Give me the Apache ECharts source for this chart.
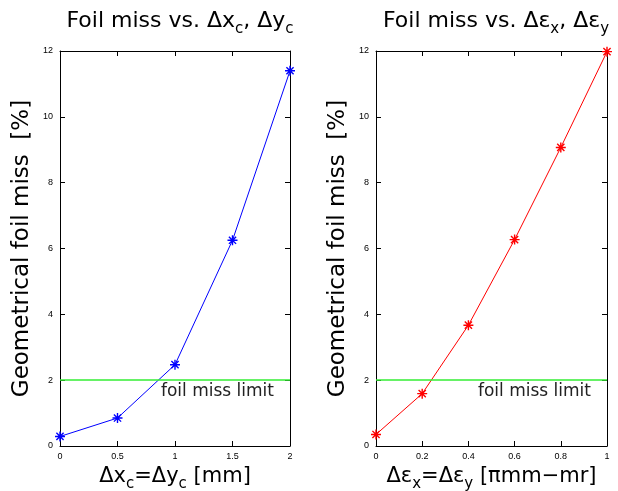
<!DOCTYPE html>
<html>
<head>
<meta charset="utf-8">
<script src="https://cdn.jsdelivr.net/npm/echarts@6/dist/echarts.min.js"></script>
<style>
  html, body { margin: 0; padding: 0; background: #fff; }
  #chart { width: 618px; height: 491px; }
</style>
</head>
<body>
<div id="chart"></div>
<script>
// left panel: miss vs centroid offset
var offsetX = [0, 0.5, 1, 1.5, 2];
var offsetMiss = [0.29, 0.85, 2.47, 6.25, 11.4];
// right panel: miss vs emittance growth
var emitX = [0, 0.2, 0.4, 0.6, 0.8, 1];
var emitMiss = [0.35, 1.59, 3.67, 6.27, 9.07, 11.98];
var missLimit = 2;

var font = '"DejaVu Sans", "Liberation Sans", sans-serif';
var tickFont = '"Liberation Sans", Arial, sans-serif';
var star = 'path://M0,-5L0,5M-5,0L5,0M-3.6,-3.6L3.6,3.6M-3.6,3.6L3.6,-3.6';

function pairs(xs, ys) {
  return xs.map(function(x, i) { return [x, ys[i]]; });
}

var rich = {
  sub: { fontSize: 15, fontFamily: font, color: '#000', padding: [16, 0, 0, 0] }
};

function xAxes(grid, max, interval, name) {
  return [{
    type: 'value', gridIndex: grid, min: 0, max: max, interval: interval,
    position: 'bottom',
    axisLine: { onZero: false, lineStyle: { color: '#000', width: 1 } },
    axisTick: { inside: true, length: 5, lineStyle: { color: '#000' } },
    axisLabel: { color: '#000', fontSize: 9, fontFamily: tickFont, margin: 6 },
    splitLine: { show: false },
    name: name, nameLocation: 'middle', nameGap: 14,
    nameTextStyle: { fontSize: 21, fontFamily: font, color: '#000', rich: rich, verticalAlign: 'top' }
  }, {
    type: 'value', gridIndex: grid, min: 0, max: max, interval: interval,
    position: 'top',
    axisLine: { onZero: false, lineStyle: { color: '#000', width: 1 } },
    axisTick: { inside: true, length: 5, lineStyle: { color: '#000' } },
    axisLabel: { show: false }, splitLine: { show: false }
  }];
}

function yAxes(grid) {
  return [{
    type: 'value', gridIndex: grid, min: 0, max: 12, interval: 2,
    position: 'left',
    axisLine: { onZero: false, lineStyle: { color: '#000', width: 1 } },
    axisTick: { inside: true, length: 5, lineStyle: { color: '#000' } },
    axisLabel: { color: '#000', fontSize: 9, fontFamily: tickFont, margin: 7 },
    splitLine: { show: false },
    name: 'Geometrical foil miss  [%]', nameLocation: 'middle', nameGap: 26,
    nameRotate: 90,
    nameTextStyle: { fontSize: 23, fontFamily: font, color: '#000' }
  }, {
    type: 'value', gridIndex: grid, min: 0, max: 12, interval: 2,
    position: 'right',
    axisLine: { onZero: false, lineStyle: { color: '#000', width: 1 } },
    axisTick: { inside: true, length: 5, lineStyle: { color: '#000' } },
    axisLabel: { show: false }, splitLine: { show: false }
  }];
}

function dataSeries(xi, yi, data, color) {
  return {
    type: 'line', xAxisIndex: xi, yAxisIndex: yi, clip: false,
    data: data,
    symbol: star, symbolSize: 10,
    itemStyle: { color: color, borderColor: color, borderWidth: 1.4 },
    lineStyle: { color: color, width: 1 },
    markLine: {
      silent: true, symbol: 'none', animation: false,
      lineStyle: { color: '#33ee33', width: 1.5, type: 'solid' },
      label: {
        show: true, formatter: 'foil miss limit', position: 'insideEndBottom',
        color: '#222', fontSize: 17, fontFamily: font, distance: [16, 3]
      },
      data: [{ yAxis: missLimit }]
    }
  };
}

var chart = echarts.init(document.getElementById('chart'), null, { renderer: 'canvas' });

chart.setOption({
  animation: false,
  backgroundColor: '#fff',
  title: [{
    text: 'Foil miss vs. Δx{sub|c}, Δy{sub|c}',
    left: 175, top: 1, textAlign: 'center',
    textStyle: { fontSize: 22, fontWeight: 'normal', fontFamily: font, color: '#000', rich: rich }
  }, {
    text: 'Foil miss vs. Δε{sub|x}, Δε{sub|y}',
    left: 491, top: 1, textAlign: 'center',
    textStyle: { fontSize: 22, fontWeight: 'normal', fontFamily: font, color: '#000', rich: rich }
  }],
  grid: [
    { left: 60, right: 328, top: 51, bottom: 45, outerBoundsMode: 'none' },
    { left: 376, right: 11, top: 51, bottom: 45, outerBoundsMode: 'none' }
  ],
  xAxis: xAxes(0, 2, 0.5, 'Δx{sub|c}=Δy{sub|c} [mm]')
    .concat(xAxes(1, 1, 0.2, 'Δε{sub|x}=Δε{sub|y} [πmm−mr]')),
  yAxis: yAxes(0).concat(yAxes(1)),
  series: [
    dataSeries(0, 0, pairs(offsetX, offsetMiss), '#0000ff'),
    dataSeries(2, 2, pairs(emitX, emitMiss), '#ff0000')
  ]
});
</script>
</body>
</html>
